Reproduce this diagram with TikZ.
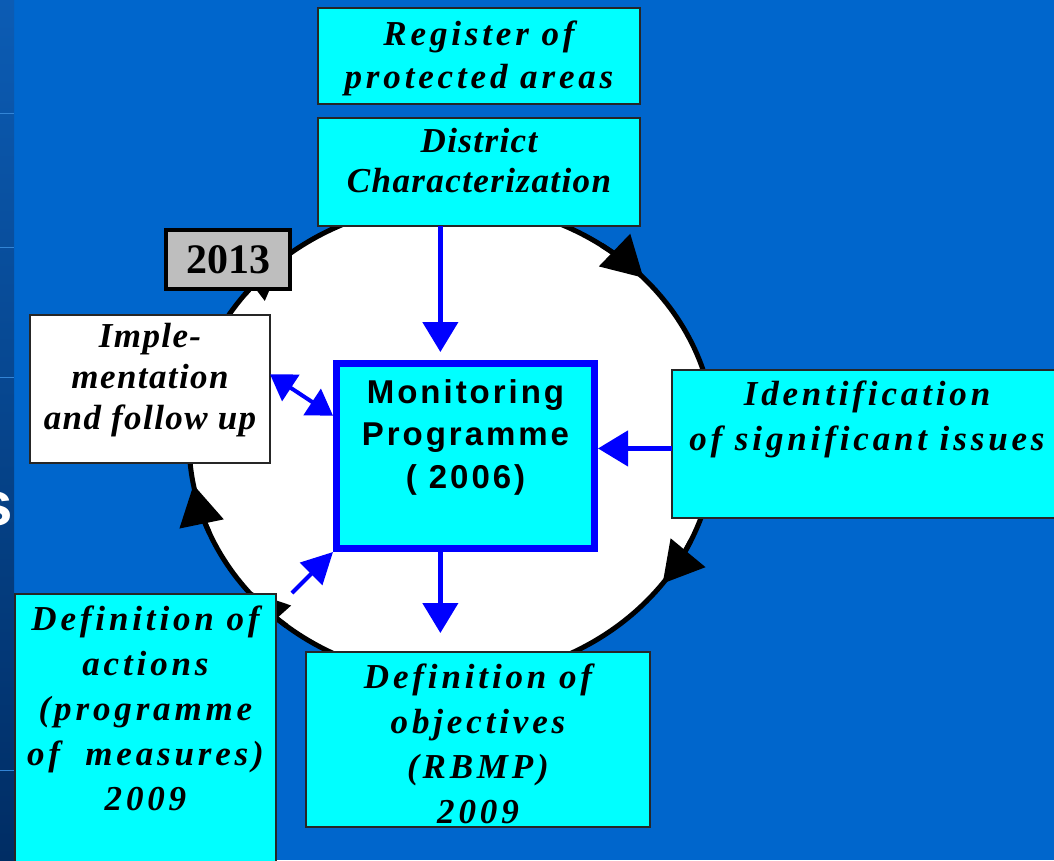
\documentclass[tikz,border=0pt]{standalone}
\usepackage{fontspec}
\setmainfont{Liberation Serif}
\newfontfamily\wideserif[LetterSpace=11]{Liberation Serif}
\newfontfamily\tightserif[LetterSpace=4]{Liberation Serif}
\newfontfamily\widesans[LetterSpace=9]{Liberation Sans}
\newfontfamily\titlesans{Liberation Sans}
\usepackage{tikz}
\usetikzlibrary{arrows.meta, positioning, calc}
\definecolor{slideblue}{RGB}{0,102,204}
\definecolor{striptop}{RGB}{12,92,180}
\definecolor{stripbottom}{RGB}{0,45,100}
\definecolor{arrowblue}{RGB}{0,0,255}
\definecolor{boxcyan}{RGB}{0,255,255}
\definecolor{yeargray}{RGB}{190,190,190}
\tikzset{
  box/.style={draw=black!85, line width=1.5pt, fill=boxcyan, anchor=north west, outer sep=0pt, inner sep=0pt},
  widetext/.style={anchor=north, align=center, inner sep=0pt, font=\wideserif\bfseries\itshape\fontsize{35}{45}\selectfont},
  tighttext/.style={anchor=north, align=center, inner sep=0pt, font=\tightserif\bfseries\itshape\fontsize{35}{41}\selectfont},
  flow/.style={arrowblue, line width=4.5pt, -{Triangle[length=30pt, width=35pt]}},
  flowboth/.style={arrowblue, line width=4pt, {Triangle[length=25pt, width=31pt]}-{Triangle[length=25pt, width=31pt]}},
  flowthin/.style={arrowblue, line width=4pt, -{Triangle[length=31pt, width=31pt]}},
  loopline/.style={black, line width=5pt},
  looptip/.style={black, line width=5pt, -{Triangle[length=40pt, width=44pt]}},
  stripline/.style={draw=slideblue!80!white, line width=1pt}
}
\begin{document}
\begin{tikzpicture}[x=1pt, y=-1pt]
  % slide background
  \useasboundingbox (0,0) rectangle (1054,860);
  \clip (0,0) rectangle (1054,860);
  \fill[slideblue] (0,0) rectangle (1054,860);
  \shade[top color=striptop, bottom color=stripbottom] (0,0) rectangle (14,860);
  \foreach \y in {113,247,377,770}
    \draw[stripline] (0,\y) -- (14,\y);
  \node[anchor=base east, inner sep=0pt, text=white, font=\titlesans\bfseries\fontsize{62}{70}\selectfont] (title-s) at (13,525) {s};

  % the cycle
  \draw[loopline, fill=white] (452,441) ellipse [x radius=263, y radius=238];
  \foreach \t in {36.8, 141, 169.4, 230, 316.7}
    \draw[looptip] (452,441) ++(\t-12:263 and 238) arc [start angle=\t-12, end angle=\t, x radius=263, y radius=238];

  % boxes
  \node[box, minimum width=322, minimum height=96] (reg) at (318,8) {};
  \node[widetext, below=13pt of reg.north] (reg-t) {Register of\\[-2pt]protected areas};

  \node[box, minimum width=322, minimum height=108] (dist) at (318,118) {};
  \node[tighttext, below=10pt of dist.north] (dist-t) {District\\[-1pt]Characterization};

  \node[box, fill=yeargray, draw=black, line width=4pt, minimum width=124, minimum height=59, font=\bfseries\fontsize{42}{48}\selectfont] (year) at (166,230) {2013};

  \node[box, fill=white, minimum width=240, minimum height=148] (impl) at (30,315) {};
  \node[tighttext, below=8pt of impl.north] (impl-t) {Imple-\\mentation\\and follow up};

  \node[box, draw=arrowblue, line width=7pt, outer sep=3.5pt, minimum width=258, minimum height=185] (mon) at (333,360) {};
  \node[anchor=north, align=center, inner sep=0pt, font=\widesans\bfseries\fontsize{33}{42.5}\selectfont, below=19pt of mon.north] (mon-t) {Monitoring\\Programme\\( 2006)};

  \node[box, minimum width=390, minimum height=148] (ident) at (672,370) {};
  \node[widetext, below=11pt of ident.north] (ident-t) {Identification\\of significant issues};

  \node[box, minimum width=261, minimum height=300] (act) at (15,594) {};
  \node[widetext, below=12pt of act.north] (act-t) {Definition of\\actions\\(programme\\of~ measures)\\2009};

  \node[box, minimum width=344, minimum height=175] (obj) at (306,652) {};
  \node[widetext, below=12pt of obj.north] (obj-t) {Definition of\\objectives\\(RBMP)\\2009};

  % connectors
  \coordinate (dx) at ($(dist.south west)!0.38!(dist.south east)$);
  \coordinate (iy) at ($(ident.north west)!0.53!(ident.south west)$);
  \coordinate (act-end) at (292,593);
  \draw[flow, shorten >=8pt] (dx) -- (dx |- mon.north);
  \draw[flow, shorten >=19pt] (dx |- mon.south) -- (dx |- obj.north);
  \draw[flow] (iy) -- (iy -| mon.east);
  \draw[flowboth] ($(impl.north east)!0.4!(impl.south east)$) -- ($(mon.north west)!0.29!(mon.south west)$);
  \draw[flowthin] (act-end) -- (mon.south west);
\end{tikzpicture}
\end{document}
